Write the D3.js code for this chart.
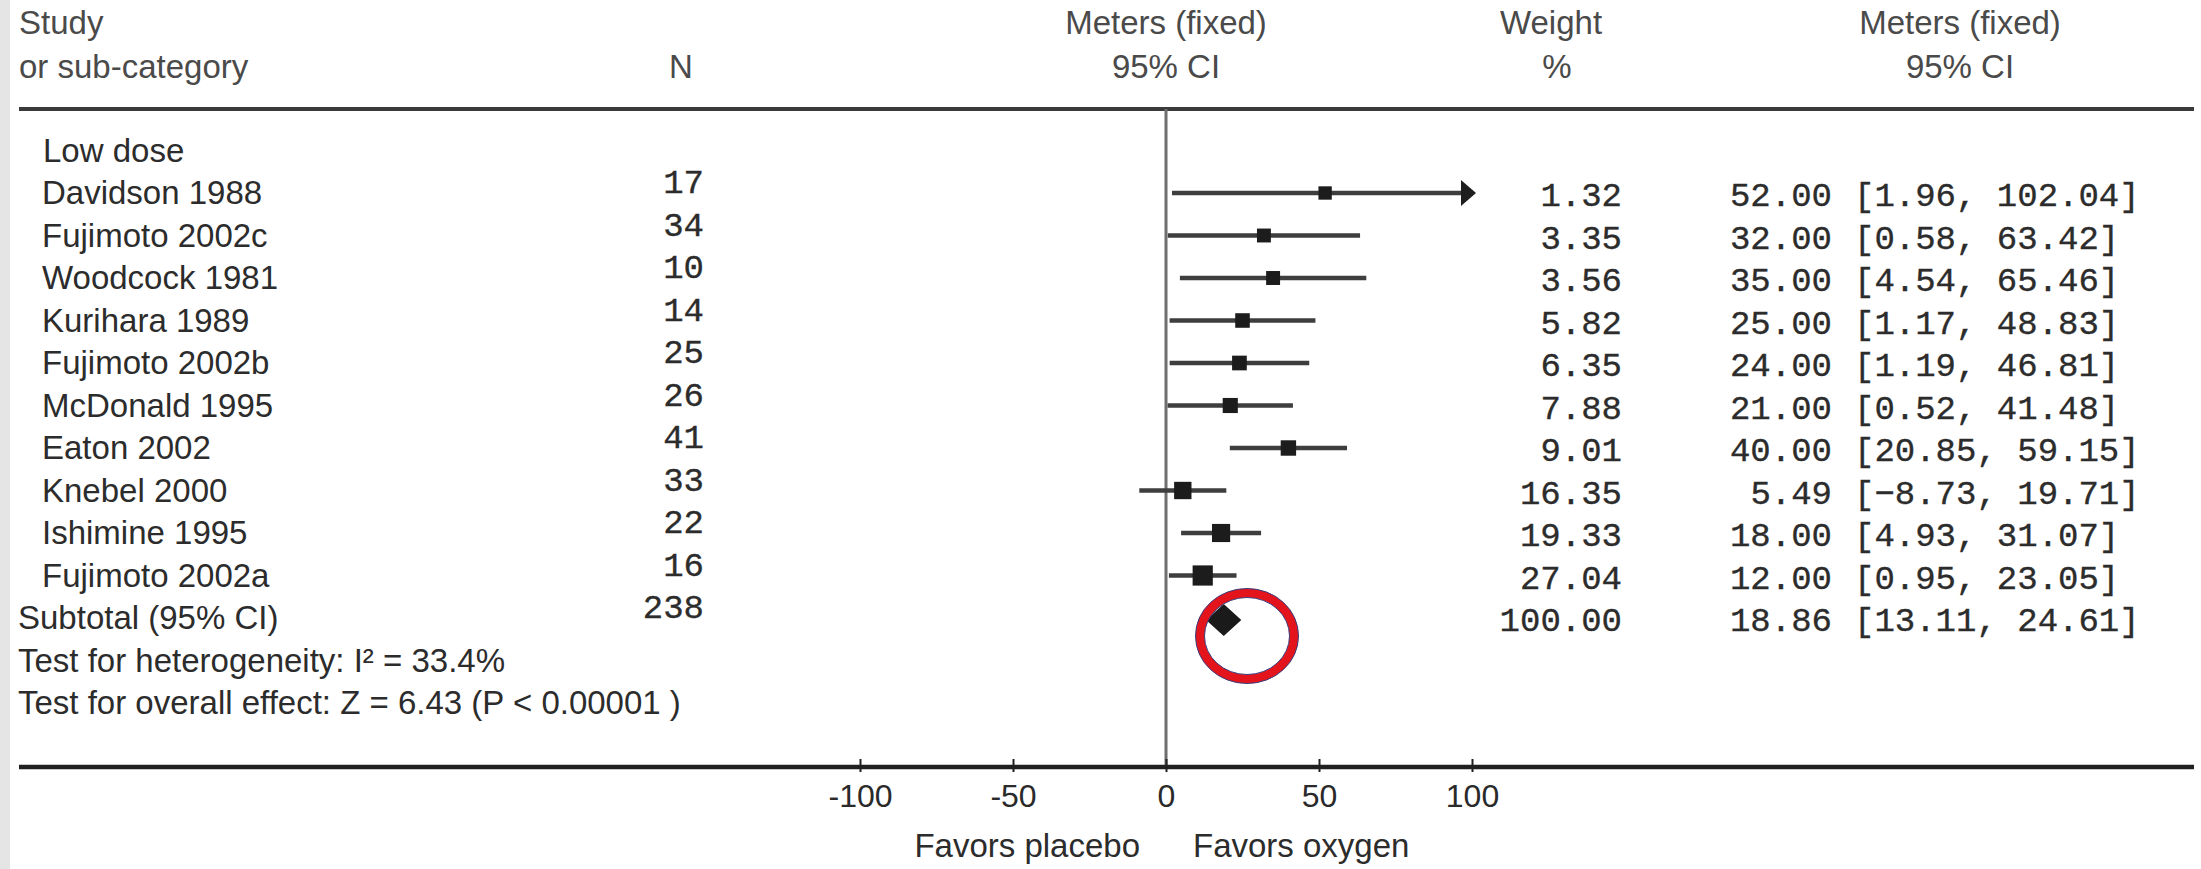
<!DOCTYPE html>
<html>
<head>
<meta charset="utf-8">
<script src="https://cdn.jsdelivr.net/npm/d3@7/dist/d3.min.js"></script>
<style>
  html, body { margin: 0; padding: 0; background: #ffffff; }
  svg { display: block; }
</style>
</head>
<body>
<svg id="chart" width="2201" height="869"></svg>
<script>
// ---------- data ----------
const groupLabel = "Low dose";
const studies = ["Davidson 1988", "Fujimoto 2002c", "Woodcock 1981", "Kurihara 1989", "Fujimoto 2002b",
                 "McDonald 1995", "Eaton 2002", "Knebel 2000", "Ishimine 1995", "Fujimoto 2002a"];
const nValues = [17, 34, 10, 14, 25, 26, 41, 33, 22, 16];
const weights = [1.32, 3.35, 3.56, 5.82, 6.35, 7.88, 9.01, 16.35, 19.33, 27.04];
const means   = [52.00, 32.00, 35.00, 25.00, 24.00, 21.00, 40.00, 5.49, 18.00, 12.00];
const lowers  = [1.96, 0.58, 4.54, 1.17, 1.19, 0.52, 20.85, -8.73, 4.93, 0.95];
const uppers  = [102.04, 63.42, 65.46, 48.83, 46.81, 41.48, 59.15, 19.71, 31.07, 23.05];
const subtotalLabel = "Subtotal (95% CI)";
const subtotalN = 238;
const subtotalWeight = 100.00;
const subtotalMean = 18.86, subtotalLower = 13.11, subtotalUpper = 24.61;
const testLines = ["Test for heterogeneity: I\u00B2 = 33.4%",
                   "Test for overall effect: Z = 6.43 (P < 0.00001 )"];
const tickValues = [-100, -50, 0, 50, 100];
const leftLabel = "Favors placebo", rightLabel = "Favors oxygen";
const headers = {
  study: ["Study", "or sub-category"],
  n: "N",
  plot: ["Meters (fixed)", "95% CI"],
  weight: ["Weight", "%"],
  ci: ["Meters (fixed)", "95% CI"]
};

// ---------- layout ----------
const svg = d3.select("#chart");
const SANS = "'Liberation Sans', Arial, sans-serif";
const MONO = "'Liberation Mono', 'Courier New', monospace";
const textCol = "#2c2c2c";
const headCol = "#4a4a4a";

const x = d3.scaleLinear().domain([-100, 100]).range([860, 1472]);
const nRows = 1 + studies.length + 1 + testLines.length; // group + studies + subtotal + tests
const yBase = d3.scaleLinear().domain([0, nRows - 1]).range([161.5, 714]);
const sq = d3.scaleLinear().domain([0, 30]).range([13, 21]);

const axisY = 767, topRuleY = 109;
const fmt2 = d3.format(".2f");

// left grey strip
svg.append("rect").attr("x", 0).attr("y", 0).attr("width", 10).attr("height", 869).attr("fill", "#e5e5e5");

function txt(xp, yp, s, opts = {}) {
  return svg.append("text")
    .attr("x", xp).attr("y", yp)
    .attr("text-anchor", opts.anchor || "start")
    .attr("font-family", opts.mono ? MONO : SANS)
    .attr("font-size", opts.size || (opts.mono ? 34 : 33))
    .attr("fill", opts.color || textCol)
    .attr("stroke", opts.mono ? (opts.color || textCol) : "none")
    .attr("stroke-width", opts.mono ? 0.35 : 0)
    .text(s);
}

// ---------- header ----------
const h1 = 34, h2 = 78;
txt(19, h1, headers.study[0], {color: headCol});
txt(19, h2, headers.study[1], {color: headCol});
txt(681, h2, headers.n, {anchor: "middle", color: headCol});
txt(x(0), h1, headers.plot[0], {anchor: "middle", color: headCol});
txt(x(0), h2, headers.plot[1], {anchor: "middle", color: headCol});
txt(1551, h1, headers.weight[0], {anchor: "middle", color: headCol});
txt(1557, h2, headers.weight[1], {anchor: "middle", color: headCol});
txt(1960, h1, headers.ci[0], {anchor: "middle", color: headCol});
txt(1960, h2, headers.ci[1], {anchor: "middle", color: headCol});

// top rule
svg.append("line").attr("x1", 19).attr("x2", 2194).attr("y1", topRuleY).attr("y2", topRuleY)
  .attr("stroke", "#3a3a3a").attr("stroke-width", 4);

// zero line
svg.append("line").attr("x1", x(0)).attr("x2", x(0)).attr("y1", topRuleY).attr("y2", axisY)
  .attr("stroke", "#6e6e6e").attr("stroke-width", 3);

// ---------- rows ----------
txt(43, yBase(0), groupLabel);

const rows = studies.map((s, i) => ({
  name: s, n: nValues[i], w: weights[i], m: means[i], lo: lowers[i], hi: uppers[i], k: i + 1
}));

const plotG = svg.append("g");
rows.forEach(r => {
  const yb = yBase(r.k);
  const yc = yb - 11;
  txt(42, yb, r.name);
  txt(704, yb - 11, String(r.n), {anchor: "end", mono: true});
  txt(1622, yb + 2, fmt2(r.w), {anchor: "end", mono: true});
  txt(1832, yb + 2, fmt2(r.m), {anchor: "end", mono: true});
  txt(1854, yb + 2, "[" + fmt2(r.lo) + ", " + fmt2(r.hi) + "]", {mono: true});

  const hiClip = Math.min(r.hi, x.domain()[1]);
  plotG.append("line")
    .attr("x1", x(r.lo)).attr("x2", x(hiClip) + (r.hi > x.domain()[1] ? -4 : 0))
    .attr("y1", yc).attr("y2", yc)
    .attr("stroke", "#3e3e3e").attr("stroke-width", 4.5);
  if (r.hi > x.domain()[1]) {
    const tip = x(x.domain()[1]) + 4;
    plotG.append("path")
      .attr("d", `M${tip - 15},${yc - 13} L${tip},${yc} L${tip - 15},${yc + 13} Z`)
      .attr("fill", "#1e1e1e");
  }
  const s = sq(r.w);
  plotG.append("rect")
    .attr("x", x(r.m) - s / 2).attr("y", yc - s / 2)
    .attr("width", s).attr("height", s)
    .attr("fill", "#1c1c1c");
});

// subtotal
const ks = studies.length + 1;
const ybS = yBase(ks);
txt(18, ybS, subtotalLabel);
txt(704, ybS - 11, String(subtotalN), {anchor: "end", mono: true});
txt(1622, ybS + 2, fmt2(subtotalWeight), {anchor: "end", mono: true});
txt(1832, ybS + 2, fmt2(subtotalMean), {anchor: "end", mono: true});
txt(1854, ybS + 2, "[" + fmt2(subtotalLower) + ", " + fmt2(subtotalUpper) + "]", {mono: true});
const yd = ybS - 9;
plotG.append("path")
  .attr("d", `M${x(subtotalLower)},${yd} L${x(subtotalMean)},${yd - 16} L${x(subtotalUpper)},${yd} L${x(subtotalMean)},${yd + 16} Z`)
  .attr("fill", "#1a1a1a");

// tests
testLines.forEach((t, i) => txt(18, yBase(ks + 1 + i), t));

// red annotation ellipse
const ex = 1247, ey = 636;
svg.append("ellipse").attr("cx", ex).attr("cy", ey).attr("rx", 47).attr("ry", 43)
  .attr("fill", "none").attr("stroke", "#e3141c").attr("stroke-width", 9);
svg.append("ellipse").attr("cx", ex).attr("cy", ey).attr("rx", 51.5).attr("ry", 47.5)
  .attr("fill", "none").attr("stroke", "#3a3f7e").attr("stroke-width", 1);
svg.append("ellipse").attr("cx", ex).attr("cy", ey).attr("rx", 42.5).attr("ry", 38.5)
  .attr("fill", "none").attr("stroke", "#3a3f7e").attr("stroke-width", 1);

// ---------- axis ----------
svg.append("line").attr("x1", 19).attr("x2", 2194).attr("y1", axisY).attr("y2", axisY)
  .attr("stroke", "#202020").attr("stroke-width", 4.5);

const axisG = svg.append("g").attr("transform", `translate(0,${axisY})`)
  .call(d3.axisBottom(x).tickValues(tickValues).tickSize(6).tickFormat(d3.format("d")));
axisG.select(".domain").remove();
axisG.selectAll(".tick line").attr("y1", -8).attr("y2", 5).attr("stroke", "#202020").attr("stroke-width", 2);
axisG.selectAll(".tick text")
  .attr("y", 40).attr("dy", 0)
  .attr("font-family", SANS).attr("font-size", 32).attr("fill", "#2a2a2a")
  .text(d => (d < 0 ? "-" + Math.abs(d) : String(d)));

txt(x(0) - 26, 857, leftLabel, {anchor: "end"});
txt(x(0) + 27, 857, rightLabel, {anchor: "start"});
</script>
</body>
</html>
